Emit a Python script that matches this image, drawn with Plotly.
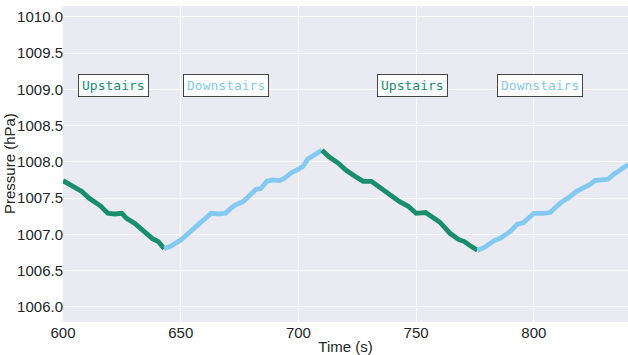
import plotly.graph_objects as go

# Upstairs (green) and Downstairs (blue) segments: time (s), pressure (hPa)
up1_t = [600, 603, 606, 608, 611, 614, 616, 619, 622, 625, 627, 630.5, 634, 638, 640.5, 643]
up1_p = [1007.74, 1007.68, 1007.62, 1007.59, 1007.50, 1007.43, 1007.39, 1007.29, 1007.28,
         1007.29, 1007.22, 1007.15, 1007.06, 1006.94, 1006.90, 1006.80]

down1_t = [643, 646, 650, 652.5, 655, 658, 660, 663, 666, 669, 671, 673, 676.5, 679, 682,
           684, 686.5, 689, 692, 694, 697, 700, 702, 704, 707.5, 710]
down1_p = [1006.80, 1006.84, 1006.92, 1006.99, 1007.07, 1007.14, 1007.21, 1007.29, 1007.28,
           1007.29, 1007.35, 1007.40, 1007.45, 1007.52, 1007.62, 1007.63, 1007.73, 1007.75,
           1007.74, 1007.77, 1007.85, 1007.90, 1007.94, 1008.04, 1008.12, 1008.16]

up2_t = [710, 713, 717, 720, 724, 727.5, 731, 734, 739, 743, 746.5, 750, 754, 757, 760, 762,
         764.5, 768, 770.5, 773.5, 776]
up2_p = [1008.16, 1008.07, 1007.98, 1007.89, 1007.80, 1007.73, 1007.73, 1007.66, 1007.54,
         1007.45, 1007.39, 1007.29, 1007.30, 1007.24, 1007.17, 1007.10, 1007.01, 1006.93,
         1006.90, 1006.83, 1006.78]

down2_t = [776, 779, 783, 786, 790, 793, 795.5, 797.5, 800, 804, 807, 809.5, 812, 815, 818,
           821, 823.5, 826, 828.5, 831.5, 834, 837, 840]
down2_p = [1006.78, 1006.82, 1006.91, 1006.95, 1007.04, 1007.14, 1007.16, 1007.21, 1007.29,
           1007.29, 1007.30, 1007.38, 1007.45, 1007.51, 1007.59, 1007.64, 1007.68, 1007.74,
           1007.75, 1007.76, 1007.83, 1007.89, 1007.96]

labels = ["Upstairs", "Downstairs", "Upstairs", "Downstairs"]
label_t = [621.6, 669.2, 748.6, 802.5]
label_p = [1009.05, 1009.05, 1009.05, 1009.05]

GREEN = "#188e6a"
BLUE = "#84c9f2"

fig = go.Figure()
for t, p, c in [(up1_t, up1_p, GREEN), (down1_t, down1_p, BLUE),
                (up2_t, up2_p, GREEN), (down2_t, down2_p, BLUE)]:
    fig.add_trace(go.Scatter(x=t, y=p, mode="lines",
                             line=dict(color=c, width=4.8, shape="linear"),
                             showlegend=False, hoverinfo="skip"))

for lab, t, p in zip(labels, label_t, label_p):
    fig.add_annotation(x=t, y=p, text=lab, showarrow=False,
                       font=dict(family="DejaVu Sans Mono", size=13,
                                 color=GREEN if lab == "Upstairs" else BLUE),
                       bgcolor="white", bordercolor="#444444", borderwidth=1, borderpad=3)

fig.add_annotation(x=0, y=0.5, xref="paper", yref="paper", text="Pressure (hPa)",
                   textangle=-90, showarrow=False, xanchor="center", yanchor="middle",
                   xshift=-54, font=dict(family="Liberation Sans, Arial", size=15, color="#262626"))

fig.update_layout(
    width=628, height=355,
    margin=dict(l=63, r=0, t=6, b=33),
    paper_bgcolor="white",
    plot_bgcolor="#eaeaf2",
    font=dict(family="Liberation Sans, Arial", size=15, color="#262626"),
    xaxis=dict(range=[600, 840], dtick=50, tick0=600, showgrid=True, gridcolor="white",
               gridwidth=1, zeroline=False, showline=False, ticks="",
               tickfont=dict(size=15), title=dict(text="Time (s)", standoff=1,
                                                  font=dict(size=15))),
    yaxis=dict(range=[1005.79, 1010.15], dtick=0.5, tick0=1006, tickformat=".1f",
               showgrid=True, gridcolor="white", gridwidth=1, zeroline=False,
               showline=False, ticks="", tickfont=dict(size=15), ticklabelstandoff=-1),
)

fig.write_html("out.html")
